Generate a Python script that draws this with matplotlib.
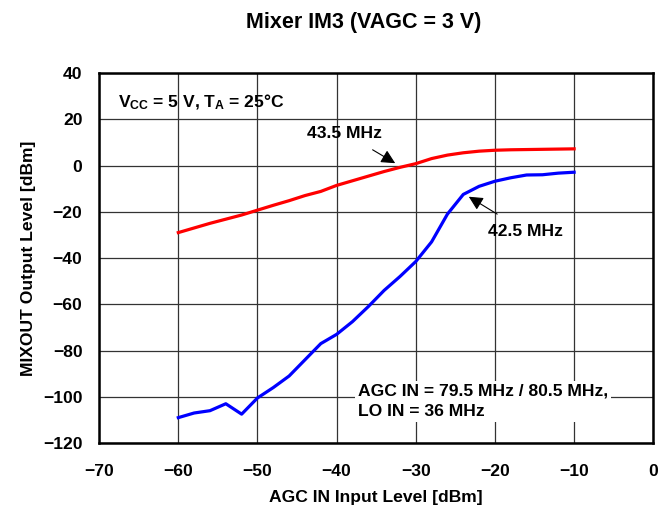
import numpy as np
import matplotlib.pyplot as plt

plt.rcParams['font.family'] = ['Liberation Sans', 'DejaVu Sans']
plt.rcParams['font.weight'] = 'bold'
plt.rcParams['mathtext.fontset'] = 'custom'
plt.rcParams['mathtext.bf'] = 'Liberation Sans:bold'
plt.rcParams['mathtext.rm'] = 'Liberation Sans:bold'
plt.rcParams['mathtext.default'] = 'bf'

# input level (dBm)
agc_in = [-60, -58, -56, -54, -52, -50, -48, -46, -44, -42, -40, -38, -36,
          -34, -32, -30, -28, -26, -24, -22, -20, -18, -16, -14, -12, -10]
# 43.5 MHz output
out_435 = [-29, -27, -25, -23.2, -21.4, -19.3, -17.2, -15.2, -13.0, -11.2, -8.6,
           -6.6, -4.6, -2.6, -0.8, 0.8, 3.0, 4.5, 5.5, 6.2, 6.6, 6.8, 6.9, 7.0, 7.1, 7.2]
# 42.5 MHz output
out_425 = [-109, -107, -106, -103, -107.5, -100.5, -96, -91, -84, -77, -73,
           -67.5, -61, -54, -48, -41.5, -33, -21, -12.5, -9, -6.8, -5.3, -4.1,
           -4.0, -3.3, -2.9]

xticks = np.arange(-70, 1, 10)
yticks = np.arange(-120, 41, 20)

fs = 12.6

fig = plt.figure(figsize=(6.7, 5.14), dpi=100)
ax = fig.add_axes([0.148, 0.138, 0.827, 0.72])

ax.plot(agc_in, out_435, color='#ff0000', lw=2.3, zorder=3)
ax.plot(agc_in, out_425, color='#0000ff', lw=2.3, zorder=3)

ax.set_xlim(-70, 0)
ax.set_ylim(-120, 40)
ax.set_xticks(xticks)
ax.set_yticks(yticks)
ax.set_xticklabels(['\u2212%d' % -v if v < 0 else '%d' % v for v in xticks])
ax.set_yticklabels(['\u2212%d' % -v if v < 0 else '%d' % v for v in yticks])
ax.tick_params(length=0, labelsize=fs)
ax.tick_params(axis='x', pad=15)
ax.tick_params(axis='y', pad=12)
ax.grid(True, color='#333333', lw=0.9)
for s in ax.spines.values():
    s.set_linewidth(1.8)
    s.set_color('black')

ax.set_xlabel('AGC IN Input Level [dBm]', fontsize=fs, fontweight='bold', labelpad=8)
ax.set_ylabel('MIXOUT Output Level [dBm]', fontsize=fs, fontweight='bold', labelpad=5)
fig.text(0.543, 0.957, 'Mixer IM3 (VAGC = 3 V)', ha='center', va='center',
         fontsize=15.5, fontweight='bold')

ax.text(-67.6, 27.5, r'V$_{CC}$ = 5 V, T$_{A}$ = 25°C', fontsize=fs,
        fontweight='bold', va='center', ha='left')
ax.text(-37.3, -102, 'AGC IN = 79.5 MHz / 80.5 MHz,\nLO IN = 36 MHz',
        fontsize=fs, fontweight='bold', va='center', ha='left',
        linespacing=1.45,
        bbox=dict(facecolor='white', edgecolor='none', pad=2), zorder=4)

arrow = dict(arrowstyle='-|>,head_length=0.7,head_width=0.35', color='black',
             lw=0.8, mutation_scale=12)
ax.annotate('43.5 MHz', xy=(-32.6, 1.0), xytext=(-39.0, 14),
            fontsize=fs, fontweight='bold', ha='center', va='center',
            arrowprops=dict(arrow, shrinkA=9, shrinkB=0))
ax.annotate('42.5 MHz', xy=(-23.3, -13.5), xytext=(-16.1, -28.6),
            fontsize=fs, fontweight='bold', ha='center', va='center',
            arrowprops=dict(arrow, shrinkA=10, shrinkB=0))

fig.savefig('out.png', dpi=100)
